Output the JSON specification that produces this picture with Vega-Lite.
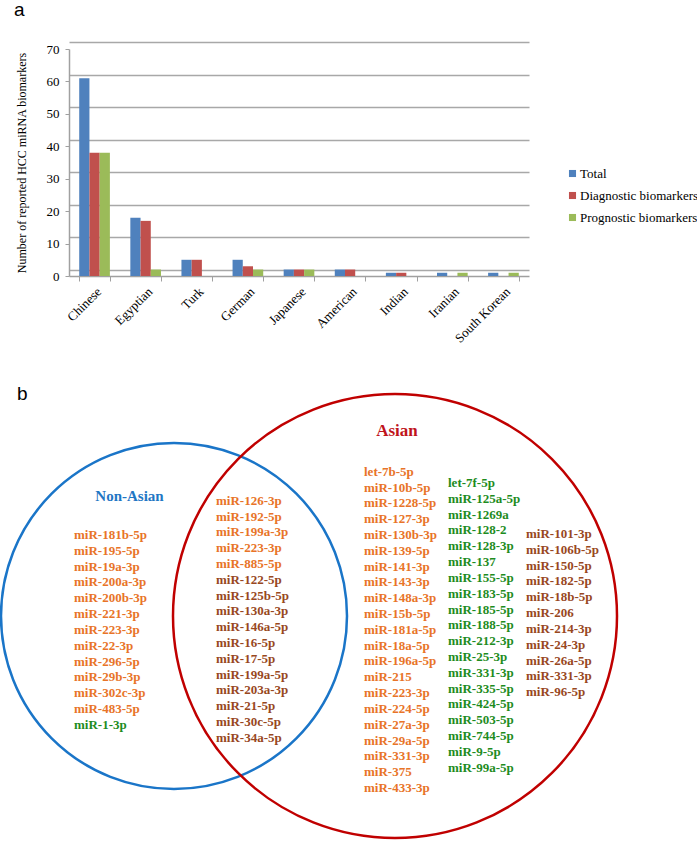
{
  "$schema": "https://vega.github.io/schema/vega-lite/v6.json",
  "padding": {"left": -4, "top": 1, "right": 0, "bottom": 0},
  "background": "white",
  "bounds": "flush",
  "spacing": 133,
  "datasets": {
    "bars": [
      {"country": "Chinese", "series": "Total", "count": 61},
      {"country": "Chinese", "series": "Diagnostic biomarkers", "count": 38},
      {"country": "Chinese", "series": "Prognostic biomarkers", "count": 38},
      {"country": "Egyptian", "series": "Total", "count": 18},
      {"country": "Egyptian", "series": "Diagnostic biomarkers", "count": 17},
      {"country": "Egyptian", "series": "Prognostic biomarkers", "count": 2},
      {"country": "Turk", "series": "Total", "count": 5},
      {"country": "Turk", "series": "Diagnostic biomarkers", "count": 5},
      {"country": "Turk", "series": "Prognostic biomarkers", "count": 0},
      {"country": "German", "series": "Total", "count": 5},
      {"country": "German", "series": "Diagnostic biomarkers", "count": 3},
      {"country": "German", "series": "Prognostic biomarkers", "count": 2},
      {"country": "Japanese", "series": "Total", "count": 2},
      {"country": "Japanese", "series": "Diagnostic biomarkers", "count": 2},
      {"country": "Japanese", "series": "Prognostic biomarkers", "count": 2},
      {"country": "American", "series": "Total", "count": 2},
      {"country": "American", "series": "Diagnostic biomarkers", "count": 2},
      {"country": "American", "series": "Prognostic biomarkers", "count": 0},
      {"country": "Indian", "series": "Total", "count": 1},
      {"country": "Indian", "series": "Diagnostic biomarkers", "count": 1},
      {"country": "Indian", "series": "Prognostic biomarkers", "count": 0},
      {"country": "Iranian", "series": "Total", "count": 1},
      {"country": "Iranian", "series": "Diagnostic biomarkers", "count": 0},
      {"country": "Iranian", "series": "Prognostic biomarkers", "count": 1},
      {"country": "South Korean", "series": "Total", "count": 1},
      {"country": "South Korean", "series": "Diagnostic biomarkers", "count": 0},
      {"country": "South Korean", "series": "Prognostic biomarkers", "count": 1}
    ],
    "sets": [
      {"set": "Non-Asian"},
      {"set": "Asian"}
    ],
    "mirnas": [
      {"mirna": "miR-181b-5p", "col": 1, "rank": 0, "type": "Diagnostic"},
      {"mirna": "miR-195-5p", "col": 1, "rank": 1, "type": "Diagnostic"},
      {"mirna": "miR-19a-3p", "col": 1, "rank": 2, "type": "Diagnostic"},
      {"mirna": "miR-200a-3p", "col": 1, "rank": 3, "type": "Diagnostic"},
      {"mirna": "miR-200b-3p", "col": 1, "rank": 4, "type": "Diagnostic"},
      {"mirna": "miR-221-3p", "col": 1, "rank": 5, "type": "Diagnostic"},
      {"mirna": "miR-223-3p", "col": 1, "rank": 6, "type": "Diagnostic"},
      {"mirna": "miR-22-3p", "col": 1, "rank": 7, "type": "Diagnostic"},
      {"mirna": "miR-296-5p", "col": 1, "rank": 8, "type": "Diagnostic"},
      {"mirna": "miR-29b-3p", "col": 1, "rank": 9, "type": "Diagnostic"},
      {"mirna": "miR-302c-3p", "col": 1, "rank": 10, "type": "Diagnostic"},
      {"mirna": "miR-483-5p", "col": 1, "rank": 11, "type": "Diagnostic"},
      {"mirna": "miR-1-3p", "col": 1, "rank": 12, "type": "Prognostic"},
      {"mirna": "miR-126-3p", "col": 2, "rank": 0, "type": "Diagnostic"},
      {"mirna": "miR-192-5p", "col": 2, "rank": 1, "type": "Diagnostic"},
      {"mirna": "miR-199a-3p", "col": 2, "rank": 2, "type": "Diagnostic"},
      {"mirna": "miR-223-3p", "col": 2, "rank": 3, "type": "Diagnostic"},
      {"mirna": "miR-885-5p", "col": 2, "rank": 4, "type": "Diagnostic"},
      {"mirna": "miR-122-5p", "col": 2, "rank": 5, "type": "Diagnostic and prognostic"},
      {"mirna": "miR-125b-5p", "col": 2, "rank": 6, "type": "Diagnostic and prognostic"},
      {"mirna": "miR-130a-3p", "col": 2, "rank": 7, "type": "Diagnostic and prognostic"},
      {"mirna": "miR-146a-5p", "col": 2, "rank": 8, "type": "Diagnostic and prognostic"},
      {"mirna": "miR-16-5p", "col": 2, "rank": 9, "type": "Diagnostic and prognostic"},
      {"mirna": "miR-17-5p", "col": 2, "rank": 10, "type": "Diagnostic and prognostic"},
      {"mirna": "miR-199a-5p", "col": 2, "rank": 11, "type": "Diagnostic and prognostic"},
      {"mirna": "miR-203a-3p", "col": 2, "rank": 12, "type": "Diagnostic and prognostic"},
      {"mirna": "miR-21-5p", "col": 2, "rank": 13, "type": "Diagnostic and prognostic"},
      {"mirna": "miR-30c-5p", "col": 2, "rank": 14, "type": "Diagnostic and prognostic"},
      {"mirna": "miR-34a-5p", "col": 2, "rank": 15, "type": "Diagnostic and prognostic"},
      {"mirna": "let-7b-5p", "col": 3, "rank": 0, "type": "Diagnostic"},
      {"mirna": "miR-10b-5p", "col": 3, "rank": 1, "type": "Diagnostic"},
      {"mirna": "miR-1228-5p", "col": 3, "rank": 2, "type": "Diagnostic"},
      {"mirna": "miR-127-3p", "col": 3, "rank": 3, "type": "Diagnostic"},
      {"mirna": "miR-130b-3p", "col": 3, "rank": 4, "type": "Diagnostic"},
      {"mirna": "miR-139-5p", "col": 3, "rank": 5, "type": "Diagnostic"},
      {"mirna": "miR-141-3p", "col": 3, "rank": 6, "type": "Diagnostic"},
      {"mirna": "miR-143-3p", "col": 3, "rank": 7, "type": "Diagnostic"},
      {"mirna": "miR-148a-3p", "col": 3, "rank": 8, "type": "Diagnostic"},
      {"mirna": "miR-15b-5p", "col": 3, "rank": 9, "type": "Diagnostic"},
      {"mirna": "miR-181a-5p", "col": 3, "rank": 10, "type": "Diagnostic"},
      {"mirna": "miR-18a-5p", "col": 3, "rank": 11, "type": "Diagnostic"},
      {"mirna": "miR-196a-5p", "col": 3, "rank": 12, "type": "Diagnostic"},
      {"mirna": "miR-215", "col": 3, "rank": 13, "type": "Diagnostic"},
      {"mirna": "miR-223-3p", "col": 3, "rank": 14, "type": "Diagnostic"},
      {"mirna": "miR-224-5p", "col": 3, "rank": 15, "type": "Diagnostic"},
      {"mirna": "miR-27a-3p", "col": 3, "rank": 16, "type": "Diagnostic"},
      {"mirna": "miR-29a-5p", "col": 3, "rank": 17, "type": "Diagnostic"},
      {"mirna": "miR-331-3p", "col": 3, "rank": 18, "type": "Diagnostic"},
      {"mirna": "miR-375", "col": 3, "rank": 19, "type": "Diagnostic"},
      {"mirna": "miR-433-3p", "col": 3, "rank": 20, "type": "Diagnostic"},
      {"mirna": "let-7f-5p", "col": 4, "rank": 0, "type": "Prognostic"},
      {"mirna": "miR-125a-5p", "col": 4, "rank": 1, "type": "Prognostic"},
      {"mirna": "miR-1269a", "col": 4, "rank": 2, "type": "Prognostic"},
      {"mirna": "miR-128-2", "col": 4, "rank": 3, "type": "Prognostic"},
      {"mirna": "miR-128-3p", "col": 4, "rank": 4, "type": "Prognostic"},
      {"mirna": "miR-137", "col": 4, "rank": 5, "type": "Prognostic"},
      {"mirna": "miR-155-5p", "col": 4, "rank": 6, "type": "Prognostic"},
      {"mirna": "miR-183-5p", "col": 4, "rank": 7, "type": "Prognostic"},
      {"mirna": "miR-185-5p", "col": 4, "rank": 8, "type": "Prognostic"},
      {"mirna": "miR-188-5p", "col": 4, "rank": 9, "type": "Prognostic"},
      {"mirna": "miR-212-3p", "col": 4, "rank": 10, "type": "Prognostic"},
      {"mirna": "miR-25-3p", "col": 4, "rank": 11, "type": "Prognostic"},
      {"mirna": "miR-331-3p", "col": 4, "rank": 12, "type": "Prognostic"},
      {"mirna": "miR-335-5p", "col": 4, "rank": 13, "type": "Prognostic"},
      {"mirna": "miR-424-5p", "col": 4, "rank": 14, "type": "Prognostic"},
      {"mirna": "miR-503-5p", "col": 4, "rank": 15, "type": "Prognostic"},
      {"mirna": "miR-744-5p", "col": 4, "rank": 16, "type": "Prognostic"},
      {"mirna": "miR-9-5p", "col": 4, "rank": 17, "type": "Prognostic"},
      {"mirna": "miR-99a-5p", "col": 4, "rank": 18, "type": "Prognostic"},
      {"mirna": "miR-101-3p", "col": 5, "rank": 0, "type": "Diagnostic and prognostic"},
      {"mirna": "miR-106b-5p", "col": 5, "rank": 1, "type": "Diagnostic and prognostic"},
      {"mirna": "miR-150-5p", "col": 5, "rank": 2, "type": "Diagnostic and prognostic"},
      {"mirna": "miR-182-5p", "col": 5, "rank": 3, "type": "Diagnostic and prognostic"},
      {"mirna": "miR-18b-5p", "col": 5, "rank": 4, "type": "Diagnostic and prognostic"},
      {"mirna": "miR-206", "col": 5, "rank": 5, "type": "Diagnostic and prognostic"},
      {"mirna": "miR-214-3p", "col": 5, "rank": 6, "type": "Diagnostic and prognostic"},
      {"mirna": "miR-24-3p", "col": 5, "rank": 7, "type": "Diagnostic and prognostic"},
      {"mirna": "miR-26a-5p", "col": 5, "rank": 8, "type": "Diagnostic and prognostic"},
      {"mirna": "miR-331-3p", "col": 5, "rank": 9, "type": "Diagnostic and prognostic"},
      {"mirna": "miR-96-5p", "col": 5, "rank": 10, "type": "Diagnostic and prognostic"}
    ]
  },
  "vconcat": [
    {
      "width": 460,
      "height": 227,
      "title": {"text": "a", "anchor": "start", "frame": "group", "dx": -55, "offset": 23, "font": "Liberation Sans", "fontSize": 19, "fontWeight": "normal", "color": "black"},
      "data": {"name": "bars"},
      "layer": [
        {
          "mark": {"type": "rule", "opacity": 0},
          "encoding": {
            "y": {"field": "count", "type": "quantitative",
              "scale": {"domain": [0, 70], "range": [221, -6.7], "nice": false, "zero": false},
              "axis": {"orient": "right", "grid": true, "gridColor": "#a8a8a8", "gridWidth": 1.5, "labels": false, "ticks": false, "domain": false, "title": null, "values": [0, 10, 20, 30, 40, 50, 60, 70]}}
          }
        },
        {
          "mark": {"type": "bar"},
          "encoding": {
            "x": {"field": "country", "type": "nominal",
              "sort": ["Chinese", "Egyptian", "Turk", "German", "Japanese", "American", "Indian", "Iranian", "South Korean"],
              "scale": {"paddingInner": 0.4, "paddingOuter": 0.2},
              "axis": {"title": null, "labelAngle": -45, "labelFont": "Liberation Serif", "labelFontSize": 13, "labelColor": "black", "domainColor": "#a0a0a0", "domainWidth": 1.5, "tickColor": "#a0a0a0", "tickBand": "extent", "tickSize": 5, "labelPadding": 4}},
            "xOffset": {"field": "series", "type": "nominal",
              "sort": ["Total", "Diagnostic biomarkers", "Prognostic biomarkers"],
              "scale": {"paddingInner": 0, "paddingOuter": 0}},
            "y": {"field": "count", "type": "quantitative",
              "scale": {"domain": [0, 70], "nice": false},
              "axis": {"values": [0, 10, 20, 30, 40, 50, 60, 70], "grid": false, "title": "Number of reported HCC miRNA biomarkers", "titleFont": "Liberation Serif", "titleFontSize": 12, "titleFontWeight": "normal", "titleColor": "black", "titlePadding": 18, "labelFont": "Liberation Serif", "labelFontSize": 13, "labelColor": "black", "labelPadding": 6, "tickSize": 4, "tickColor": "#a0a0a0", "domainColor": "#a0a0a0", "domainWidth": 1.5}},
            "color": {"field": "series", "type": "nominal",
              "scale": {"domain": ["Total", "Diagnostic biomarkers", "Prognostic biomarkers"], "range": ["#4f81bd", "#c0504d", "#9bbb59"]},
              "legend": {"orient": "none", "legendX": 497, "legendY": 118, "title": null, "labelFont": "Liberation Serif", "labelFontSize": 13, "labelColor": "black", "symbolType": "square", "symbolSize": 50, "symbolStrokeWidth": 0, "rowPadding": 8, "labelOffset": 1}}
          }
        }
      ],
      "resolve": {"scale": {"y": "independent"}}
    },
    {
      "width": 628,
      "height": 414,
      "title": {"text": "b", "anchor": "start", "frame": "group", "dx": -52, "offset": -15, "font": "Liberation Sans", "fontSize": 19, "fontWeight": "normal", "color": "black"},
      "layer": [
        {
          "data": {"name": "sets"},
          "transform": [{"filter": "datum.set == 'Non-Asian'"}],
          "mark": {"type": "point", "shape": "circle", "filled": false, "strokeWidth": 2.5, "opacity": 1},
          "encoding": {
            "x": {"field": "set", "type": "nominal", "scale": {"type": "point", "domain": ["Non-Asian", "Asian"], "range": [105, 326], "padding": 0}, "axis": null},
            "size": {"value": 119716},
            "stroke": {"value": "#1a75c8"}
          }
        },
        {
          "data": {"name": "sets"},
          "transform": [{"filter": "datum.set == 'Asian'"}],
          "mark": {"type": "point", "shape": "circle", "filled": false, "strokeWidth": 2.5, "opacity": 1},
          "encoding": {
            "x": {"field": "set", "type": "nominal", "scale": {"type": "point", "domain": ["Non-Asian", "Asian"], "range": [105, 326], "padding": 0}, "axis": null},
            "size": {"value": 197136},
            "stroke": {"value": "#c00000"}
          }
        },
        {
          "data": {"name": "sets"},
          "transform": [{"filter": "datum.set == 'Non-Asian'"}],
          "mark": {"type": "text", "font": "Liberation Serif", "fontWeight": "bold", "fontSize": 15, "align": "center", "baseline": "middle"},
          "encoding": {
            "x": {"field": "set", "type": "nominal", "scale": {"type": "point", "domain": ["Non-Asian", "Asian"], "range": [60.5, 328], "padding": 0}, "axis": null},
            "y": {"field": "set", "type": "nominal", "scale": {"type": "point", "domain": ["Non-Asian", "Asian"], "range": [87, 22], "padding": 0}, "axis": null},
            "text": {"field": "set"},
            "color": {"value": "#1f77c4"}
          }
        },
        {
          "data": {"name": "sets"},
          "transform": [{"filter": "datum.set == 'Asian'"}],
          "mark": {"type": "text", "font": "Liberation Serif", "fontWeight": "bold", "fontSize": 17, "align": "center", "baseline": "middle"},
          "encoding": {
            "x": {"field": "set", "type": "nominal", "scale": {"type": "point", "domain": ["Non-Asian", "Asian"], "range": [60.5, 328], "padding": 0}, "axis": null},
            "y": {"field": "set", "type": "nominal", "scale": {"type": "point", "domain": ["Non-Asian", "Asian"], "range": [87, 22], "padding": 0}, "axis": null},
            "text": {"field": "set"},
            "color": {"value": "#c0141c"}
          }
        },
        {
          "data": {"name": "mirnas"},
          "transform": [{"filter": "datum.col == 1"}],
          "mark": {"type": "text", "font": "Liberation Serif", "fontWeight": "bold", "fontSize": 13, "align": "left", "baseline": "middle", "dy": 63.3},
          "encoding": {
            "x": {"field": "col", "type": "quantitative", "scale": {"domain": [1, 2, 3, 4, 5], "range": [5, 147, 295, 379, 457], "zero": false, "nice": false}, "axis": null},
            "y": {"field": "rank", "type": "quantitative", "scale": {"domain": [0, 20], "range": [62.7, 379], "zero": false, "nice": false}, "axis": null},
            "text": {"field": "mirna"},
            "color": {"field": "type", "type": "nominal", "scale": {"domain": ["Diagnostic", "Prognostic", "Diagnostic and prognostic"], "range": ["#e87428", "#1e8c1e", "#98481e"]}, "legend": null}
          }
        },
        {
          "data": {"name": "mirnas"},
          "transform": [{"filter": "datum.col == 2"}],
          "mark": {"type": "text", "font": "Liberation Serif", "fontWeight": "bold", "fontSize": 13, "align": "left", "baseline": "middle", "dy": 29},
          "encoding": {
            "x": {"field": "col", "type": "quantitative", "scale": {"domain": [1, 2, 3, 4, 5], "range": [5, 147, 295, 379, 457], "zero": false, "nice": false}, "axis": null},
            "y": {"field": "rank", "type": "quantitative", "scale": {"domain": [0, 20], "range": [62.7, 379], "zero": false, "nice": false}, "axis": null},
            "text": {"field": "mirna"},
            "color": {"field": "type", "type": "nominal", "scale": {"domain": ["Diagnostic", "Prognostic", "Diagnostic and prognostic"], "range": ["#e87428", "#1e8c1e", "#98481e"]}, "legend": null}
          }
        },
        {
          "data": {"name": "mirnas"},
          "transform": [{"filter": "datum.col == 3"}],
          "mark": {"type": "text", "font": "Liberation Serif", "fontWeight": "bold", "fontSize": 13, "align": "left", "baseline": "middle"},
          "encoding": {
            "x": {"field": "col", "type": "quantitative", "scale": {"domain": [1, 2, 3, 4, 5], "range": [5, 147, 295, 379, 457], "zero": false, "nice": false}, "axis": null},
            "y": {"field": "rank", "type": "quantitative", "scale": {"domain": [0, 20], "range": [62.7, 379], "zero": false, "nice": false}, "axis": null},
            "text": {"field": "mirna"},
            "color": {"field": "type", "type": "nominal", "scale": {"domain": ["Diagnostic", "Prognostic", "Diagnostic and prognostic"], "range": ["#e87428", "#1e8c1e", "#98481e"]}, "legend": null}
          }
        },
        {
          "data": {"name": "mirnas"},
          "transform": [{"filter": "datum.col == 4"}],
          "mark": {"type": "text", "font": "Liberation Serif", "fontWeight": "bold", "fontSize": 13, "align": "left", "baseline": "middle", "dy": 11.3},
          "encoding": {
            "x": {"field": "col", "type": "quantitative", "scale": {"domain": [1, 2, 3, 4, 5], "range": [5, 147, 295, 379, 457], "zero": false, "nice": false}, "axis": null},
            "y": {"field": "rank", "type": "quantitative", "scale": {"domain": [0, 20], "range": [62.7, 379], "zero": false, "nice": false}, "axis": null},
            "text": {"field": "mirna"},
            "color": {"field": "type", "type": "nominal", "scale": {"domain": ["Diagnostic", "Prognostic", "Diagnostic and prognostic"], "range": ["#e87428", "#1e8c1e", "#98481e"]}, "legend": null}
          }
        },
        {
          "data": {"name": "mirnas"},
          "transform": [{"filter": "datum.col == 5"}],
          "mark": {"type": "text", "font": "Liberation Serif", "fontWeight": "bold", "fontSize": 13, "align": "left", "baseline": "middle", "dy": 62.3},
          "encoding": {
            "x": {"field": "col", "type": "quantitative", "scale": {"domain": [1, 2, 3, 4, 5], "range": [5, 147, 295, 379, 457], "zero": false, "nice": false}, "axis": null},
            "y": {"field": "rank", "type": "quantitative", "scale": {"domain": [0, 20], "range": [62.7, 379], "zero": false, "nice": false}, "axis": null},
            "text": {"field": "mirna"},
            "color": {"field": "type", "type": "nominal", "scale": {"domain": ["Diagnostic", "Prognostic", "Diagnostic and prognostic"], "range": ["#e87428", "#1e8c1e", "#98481e"]}, "legend": null}
          }
        }
      ],
      "resolve": {"scale": {"x": "independent", "y": "independent", "color": "independent", "size": "independent"}}
    }
  ],
  "config": {
    "view": {"stroke": null},
    "font": "Liberation Serif"
  }
}
